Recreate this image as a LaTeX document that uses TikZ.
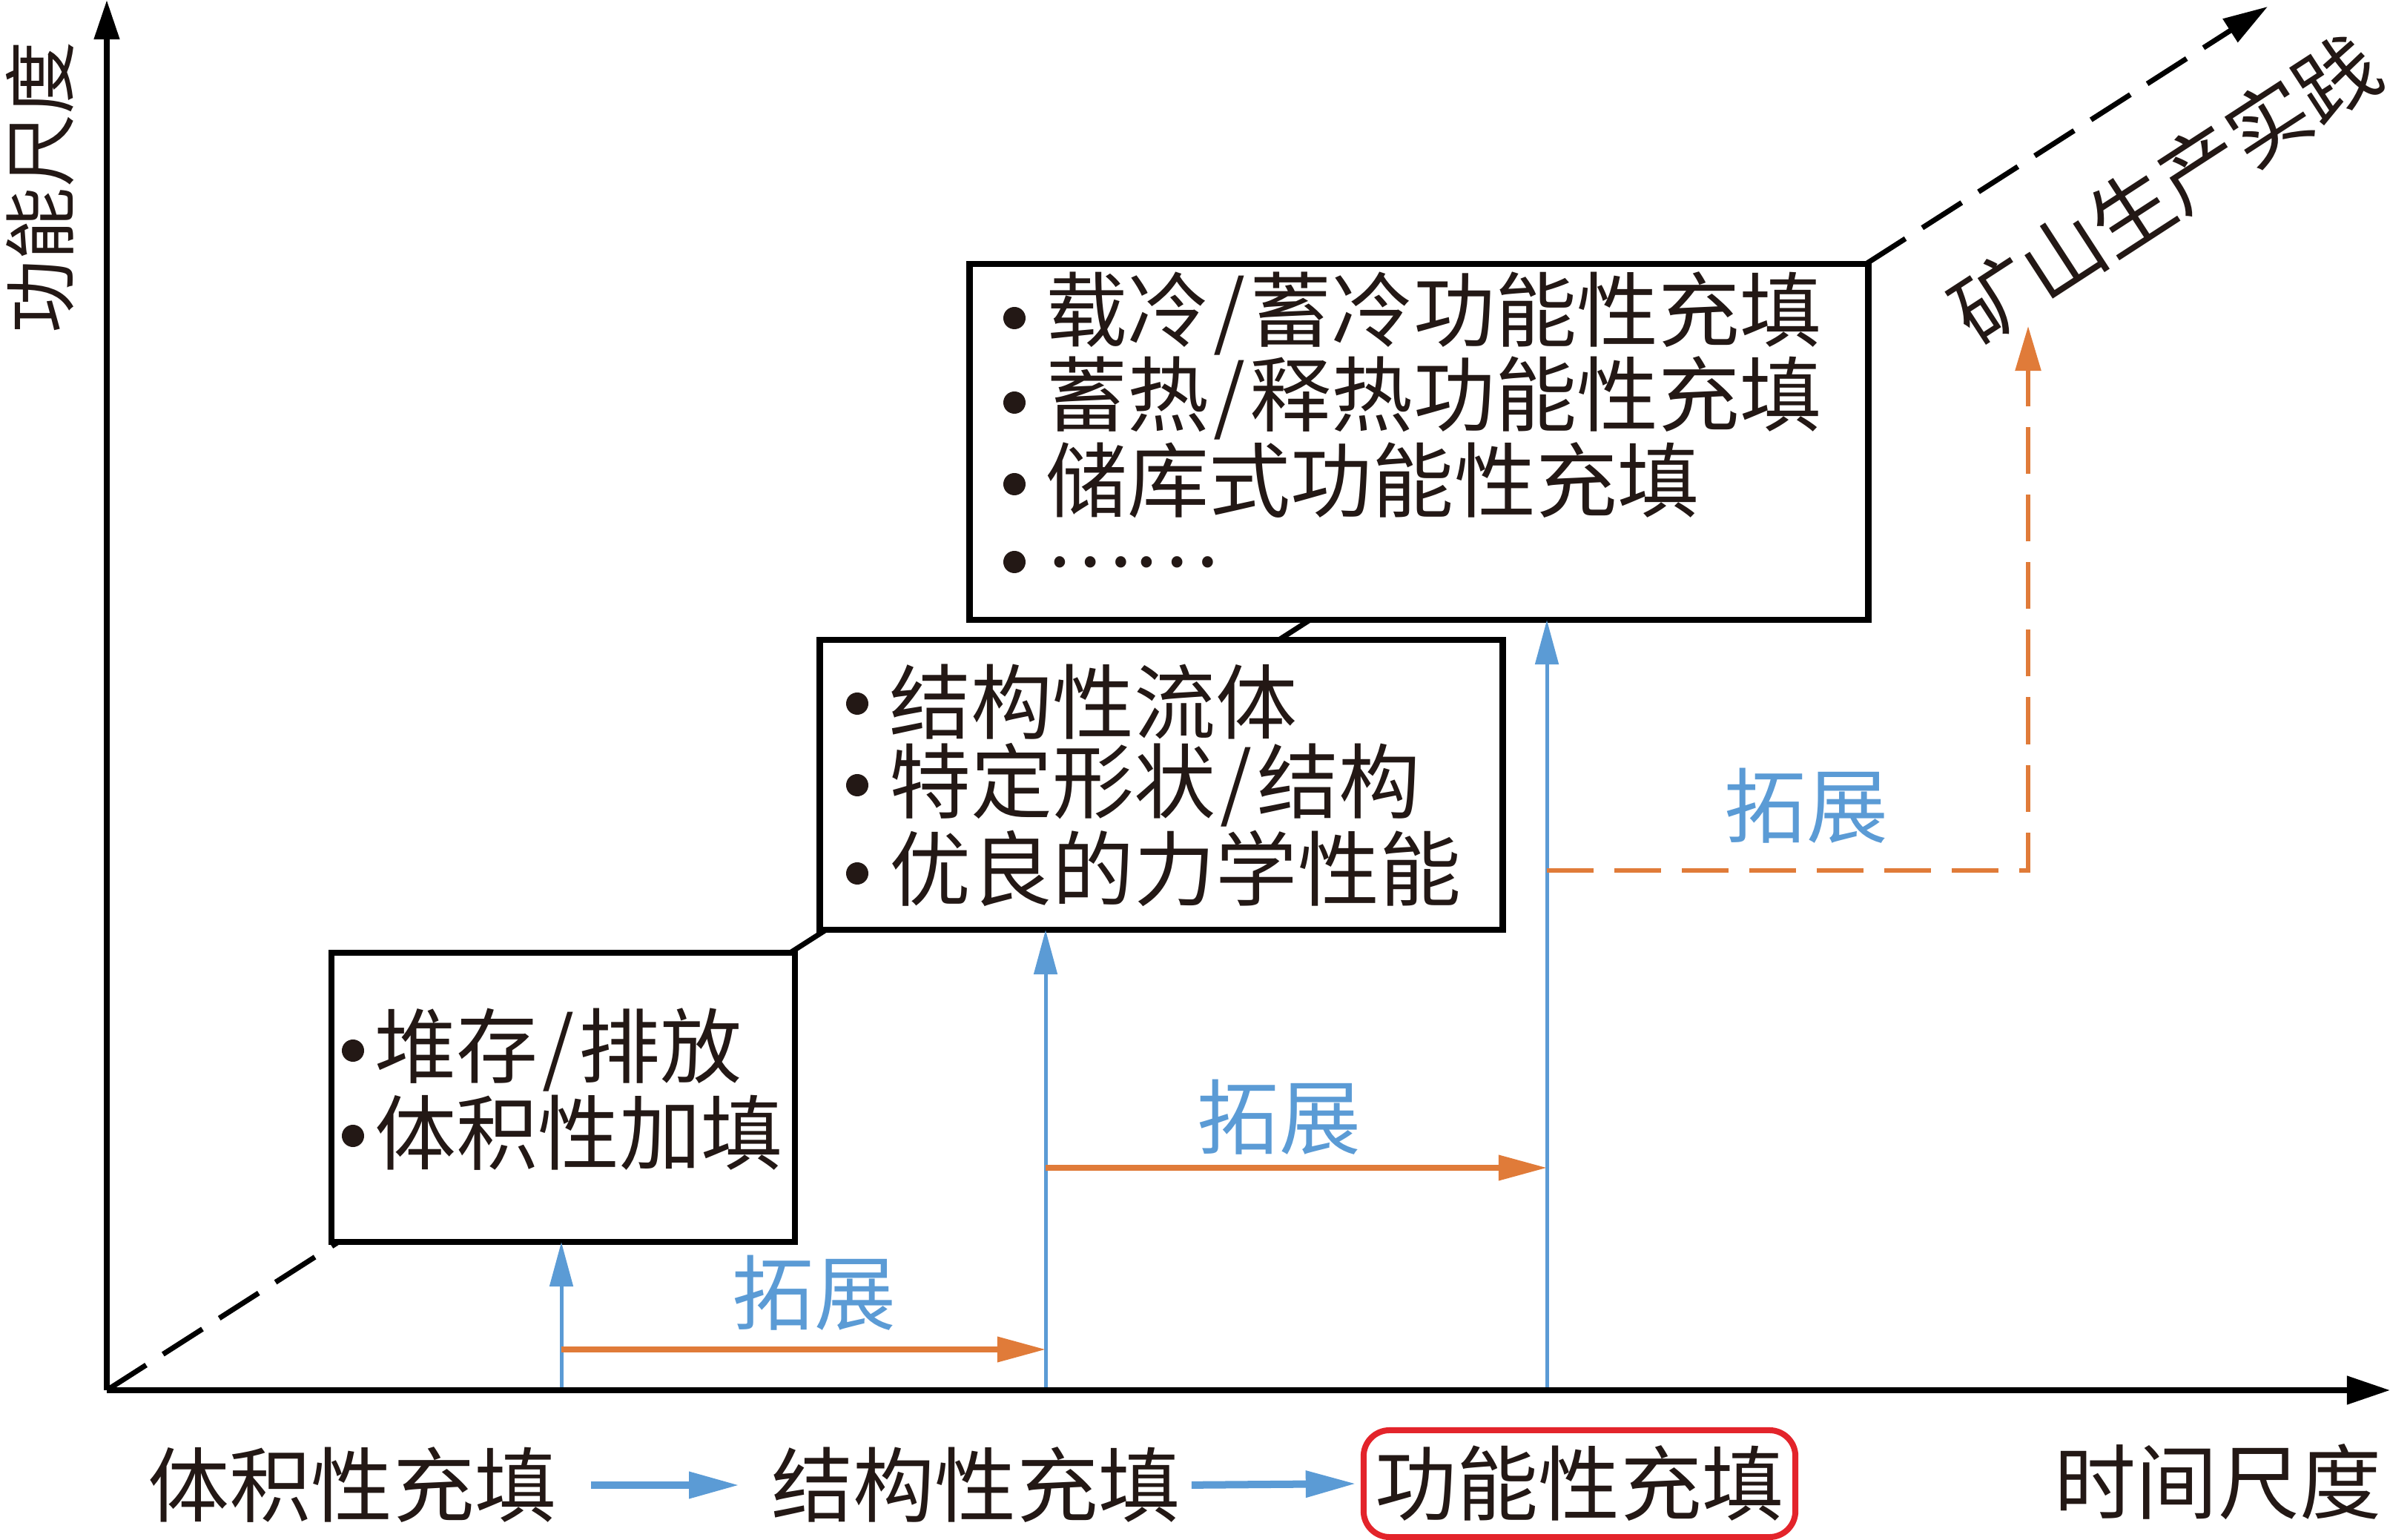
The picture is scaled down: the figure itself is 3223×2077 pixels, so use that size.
\documentclass[tikz,border=0pt]{standalone}
\usepackage{fontspec}
\setmainfont{Noto Sans CJK SC}
\usetikzlibrary{arrows.meta,calc}
\definecolor{cblue}{HTML}{5B9BD5}
\definecolor{corange}{HTML}{E07B39}
\definecolor{cred}{HTML}{E3242B}
\definecolor{ctext}{HTML}{231815}
\newcommand\halfsl{\makebox[0.5em]{/}}
\begin{document}
\begin{tikzpicture}[x=0.01cm,y=-0.01cm,
  box/.style={draw=black, line width=0.085cm, fill=white, inner sep=0, outer sep=0},
  boxtxt/.style={font=\fontsize{31.3pt}{36pt}\selectfont, text=ctext, inner sep=0, anchor=west},
  bottxt/.style={font=\fontsize{31.3pt}{36pt}\selectfont, text=ctext, inner sep=0},
  exptxt/.style={font=\fontsize{31.3pt}{36pt}\selectfont, text=cblue, inner sep=0},
  diag/.style={line width=0.07cm, black},
  ddash/.style={dash pattern=on 0.63cm off 0.27cm},
  axis/.style={line width=0.075cm, black},
  bluev/.style={cblue, line width=0.05cm, -{Triangle[length=0.6cm,width=0.31cm]}},
  orangea/.style={corange, line width=0.07cm, -{Triangle[length=0.65cm,width=0.33cm]}},
  orangedash/.style={corange, line width=0.055cm, dash pattern=on 0.63cm off 0.28cm, -{Triangle[length=0.6cm,width=0.34cm]}},
  botarrow/.style={cblue, line width=0.1cm, -{Triangle[length=0.68cm,width=0.34cm]}},
  redbox/.style={draw=cred, line width=0.08cm, rounded corners=0.35cm, minimum width=5.82cm, minimum height=1.44cm, inner sep=0, font=\fontsize{31.3pt}{36pt}\selectfont, text=ctext},
  bul/.style={fill=ctext}
]
\useasboundingbox (0,0) rectangle (3223,2077);

% key coordinates
\coordinate (O) at (144,1875);
\coordinate (T) at (3058,9);
\coordinate (Ytop) at (144,0);
\coordinate (Xend) at (3223,1875);
\coordinate (p1) at (757,1875);
\coordinate (p2) at (1410,1875);
\coordinate (p3) at (2086,1875);

% boxes
\node[box, minimum width=6.25cm, minimum height=3.90cm] (box1) at (759.5,1480) {};
\node[box, minimum width=9.20cm, minimum height=3.91cm] (box2) at (1566,1058.5) {};
\node[box, minimum width=12.11cm, minimum height=4.80cm] (box3) at (1913.5,596) {};

% perspective diagonal
\coordinate (c1) at (intersection of O--T and box1.south west--box1.south east);
\coordinate (c2) at (intersection of O--T and box1.north west--box1.north east);
\coordinate (c3) at (intersection of O--T and box2.south west--box2.south east);
\coordinate (c4) at (intersection of O--T and box2.north west--box2.north east);
\coordinate (c5) at (intersection of O--T and box3.south west--box3.south east);
\coordinate (c6) at (intersection of O--T and box3.north west--box3.north east);
\draw[diag, ddash] (O) -- (c1);
\draw[diag] (c2) -- (c3);
\draw[diag] (c4) -- (c5);
\draw[diag, ddash, -{Triangle[length=0.6cm,width=0.36cm]}] (c6) -- (T);

% box texts
\node[boxtxt] (b1a) at (505,1416) {堆存\halfsl 排放};
\node[boxtxt] (b1b) at (505,1528) {体积性加填};
\fill[bul] (476,1417) circle[radius=0.15cm];
\fill[bul] (476,1532) circle[radius=0.15cm];

\node[boxtxt] (b2a) at (1199,947) {结构性流体};
\node[boxtxt] (b2b) at (1199,1059) {特定形状\halfsl 结构};
\node[boxtxt] (b2c) at (1199,1171) {优良的力学性能};
\fill[bul] (1156,949) circle[radius=0.15cm];
\fill[bul] (1156,1059) circle[radius=0.15cm];
\fill[bul] (1156,1178) circle[radius=0.15cm];

\node[boxtxt] (b3a) at (1410,423) {载冷\halfsl 蓄冷功能性充填};
\node[boxtxt] (b3b) at (1410,537) {蓄热\halfsl 释热功能性充填};
\node[boxtxt] (b3c) at (1410,648) {储库式功能性充填};
\node[boxtxt] (b3d) at (1410,758) {……};
\fill[bul] (1368,429) circle[radius=0.15cm];
\fill[bul] (1368,543) circle[radius=0.15cm];
\fill[bul] (1368,653) circle[radius=0.15cm];
\fill[bul] (1368,758) circle[radius=0.15cm];

% blue vertical arrows
\draw[bluev] (p1) -- (p1 |- box1.south);
\draw[bluev] (p2) -- (p2 |- box2.south);
\draw[bluev] (p3) -- (p3 |- box3.south);

% orange arrows
\coordinate (o1s) at ($(p1)+(0,-55)$);
\coordinate (o1e) at ($(p2)+(0,-55)$);
\coordinate (o2s) at ($(p2)+(0,-300)$);
\coordinate (o2e) at ($(p3)+(0,-300)$);
\coordinate (o3s) at ($(p3)+(0,-701)$);
\coordinate (o3c) at (2735,1174);
\coordinate (o3e) at (2735,440);
\draw[orangea] (o1s) -- (o1e);
\draw[orangea] (o2s) -- (o2e);
\draw[orangedash] (o3s) -- (o3c) -- (o3e);

% expand labels
\node[exptxt] (e1) at (1098,1744) {拓展};
\node[exptxt] (e2) at (1725,1507) {拓展};
\node[exptxt] (e3) at (2436,1087) {拓展};

% axes
\draw[axis, -{Triangle[length=0.53cm,width=0.33cm]}] (O) -- (Ytop);
\draw[axis, -{Triangle[length=0.58cm,width=0.37cm]}] (O) -- (Xend);

% axis labels
\node[bottxt, rotate=90, font=\fontsize{28pt}{32pt}\selectfont] (ylab) at (54,253) {功能尺度};
\node[bottxt] (xlab) at (2991,1999) {时间尺度};
\node[bottxt, rotate=33] (mine) at (2920,255) {矿山生产实践};

% bottom sequence
\node[bottxt] (s1) at (475,2003) {体积性充填};
\node[bottxt] (s2) at (1316,2003) {结构性充填};
\node[redbox] (s3) at (2130,2001) {功能性充填};
\draw[botarrow, shorten <=0.46cm, shorten >=0.43cm] (s1.east) -- (s2.west);
\draw[botarrow, shorten <=0.15cm, shorten >=0.06cm] (s2.east) -- (s3.west);
\end{tikzpicture}
\end{document}
